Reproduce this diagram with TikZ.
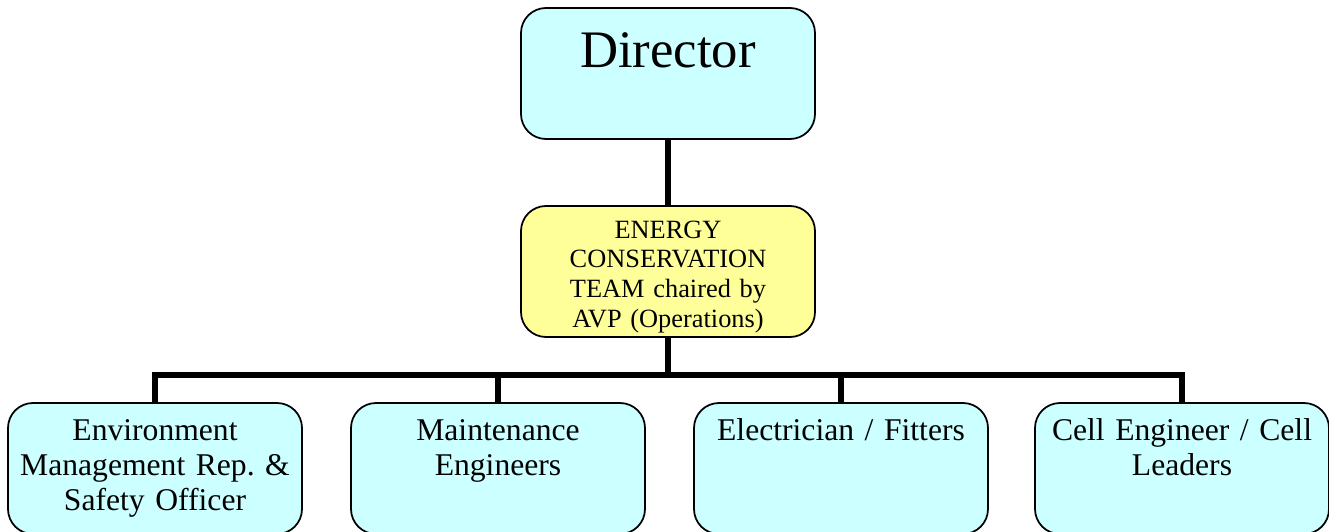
\documentclass[tikz,border=0pt]{standalone}
\usepackage{fontspec}
\setmainfont{Liberation Serif}
\frenchspacing
\definecolor{boxcyan}{HTML}{CCFFFF}
\definecolor{boxyellow}{HTML}{FFFF99}

\begin{document}
\begin{tikzpicture}[
    orgbox/.style={rectangle, rounded corners=0.5cm, draw, line width=1pt, fill=boxcyan, inner sep=0pt, outer sep=0pt, text width=5.88cm, align=center},
    staffbox/.style={orgbox, text height=0.74cm, text depth=1.88cm, font=\fontsize{18}{20}\selectfont},
    link/.style={line width=3.4pt}
  ]
    \useasboundingbox (0,0) rectangle (26.58,-10.62);
    \clip (0,0) rectangle (26.58,-10.62);

    \node[orgbox, text height=1.18cm, text depth=1.44cm, font=\fontsize{30}{36}\selectfont] (director) at (13.36,-1.47) {Director};

    \node[orgbox, fill=boxyellow, text height=0.64cm, text depth=1.98cm, font=\fontsize{15}{17}\selectfont] (team) at (13.36,-5.43) {ENERGY\\CONSERVATION\\TEAM chaired by\\AVP (Operations)};

    % Team members
    \node[staffbox] (envrep) at (3.1,-9.37) {Environment\\Management Rep. \&\\Safety Officer};
    \node[staffbox] (maint) at (9.96,-9.37) {Maintenance\\Engineers};
    \node[staffbox] (elec) at (16.82,-9.37) {Electrician / Fitters};
    \node[staffbox] (cell) at (23.64,-9.37) {Cell Engineer / Cell\\Leaders};

    % Add connectors
    \coordinate (bus) at (13.36,-7.5);
    \draw[link] (director) -- (team);
    \draw[link] (team) -- (bus);
    \draw[link, line cap=rect] (envrep.north |- bus) -- (cell.north |- bus);
    \foreach \member in {envrep, maint, elec, cell}
        \draw[link] (\member.north |- bus) -- (\member.north);
\end{tikzpicture}
\end{document}
